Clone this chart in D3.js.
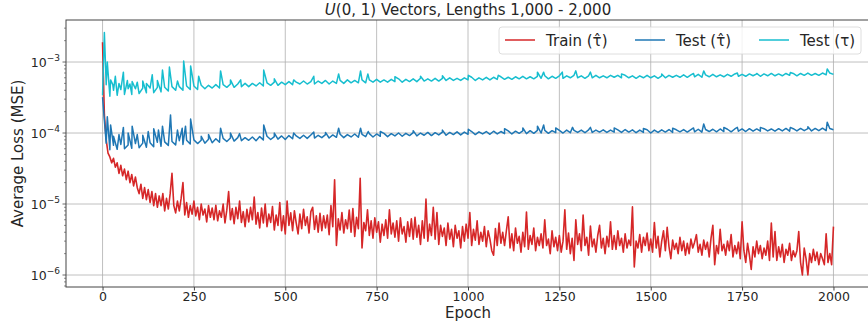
<!DOCTYPE html>
<html>
<head>
<meta charset="utf-8">
<script src="https://cdn.jsdelivr.net/npm/d3@7"></script>
<style>
  body { margin: 0; background: #fff; }
  svg { display: block; font-family: "DejaVu Sans", sans-serif; }
</style>
</head>
<body>
<div id="chart"></div>
<script>
// epochs run 0..2000; train logged every 5 epochs, test every 10 (+ spikes)
var trainStep = 5, testStep = 10;

// Train (tau hat), units of 1e-6
var trainLoss = [
  1900,180,80,52,46,38,44,33,38,27,35,25,31,22,29,20,26,18,24,17,
  14,19,12,17,11.5,16,10.5,15,9.5,14,9,13,9.5,14,8,12,8.5,14,27,9.5,
  7.5,11,8,12,20,7,10.5,6.5,9.5,7.2,11,6.8,9,6,10,7,8.5,5.6,9.5,6.5,
  8.8,6,9.6,5.8,8,6.5,10,5.4,8.2,15,6,8.6,5.3,9,6.2,11,5.5,7.8,4.8,8.4,
  5.6,9,6,12.5,5.2,7.6,4.6,8.8,5.4,10,4.8,7.2,5.5,9.2,4.3,7,5,10.5,4.2,6.8,
  3.8,11,5,7.5,4.2,8,5.4,3.8,7.2,4.5,8.4,5,6.6,3.9,7.8,9,4.4,6.8,4,7.4,
  4.2,6.8,4.6,7,3.7,9.5,4.8,22,2.6,6.2,4.3,7.6,3.9,6,4.5,8.2,4,8.6,3.5,6.5,
  4.5,23,2.4,5.5,4.2,8.3,3.6,5.8,3.3,6.4,4,5.6,2.9,5.2,3.6,6,3.3,8.3,3.8,5.4,
  3.4,5.8,3,6.4,3.8,4.8,2.9,5.6,3.5,6.2,3.2,6.5,3.4,5,2.7,5.8,3.3,11.7,3,5.2,
  3.6,9,3.2,7.6,2.7,5,3.5,4.6,2.6,5.4,3.2,4.4,2.5,5,3.3,4.2,2.4,4.8,3,5.2,
  3.3,7.6,2.6,4.4,3.1,5.8,2.7,4,3,4.8,2.5,4.2,3.2,2.2,1.9,4.5,2.6,5.4,2.8,4,
  2.6,4.2,6.6,2.4,3.8,2.2,4.6,2.8,3.5,2.1,4,2.5,7.7,2.3,3.6,2.7,4.6,2.2,3.4,2.6,
  3.8,2.4,6,2.6,3.2,2,4.2,2.5,3.4,2.2,3.6,2.1,3,8.3,2.3,3.9,2,3.3,1.6,6,
  2.7,3.8,2.2,7,2.6,3.4,1.9,4.9,2.5,3.2,2.1,3.6,5,2.4,3.3,2,3.5,2.5,5.6,2.3,
  3.6,2.3,4.2,2.6,3.3,2.1,3.8,2.4,3.1,2.6,9.1,1.3,3,2.4,3.7,2.1,3.4,2.6,3.9,2.2,
  3.2,2.1,5.5,2.4,3.5,1.8,3,4.2,2.2,4.7,2.5,1.7,3.1,2.3,2.8,2,3.4,2.2,3,1.9,
  2.8,2,3.2,2.4,2.9,3.7,2.1,2.7,1.9,3.1,2.3,2.9,1.8,3.3,5,1.4,2.6,2,4.4,2.2,
  2.7,1.9,3,2.2,3.7,1.8,2.6,2,2.9,1.7,5.6,2.2,1.5,2.8,1.9,1.2,2.5,1.8,3,2,
  2.6,1.7,2.4,1.9,3,1.6,5.4,1.8,4.1,1.6,2.5,1.8,2.7,1.5,2.3,1.9,2.8,1.6,2.2,1.8,
  2.2,4.1,1.5,1,2.4,1.7,1,2,1.5,2.3,1.6,2.1,1.4,2,1.7,1.4,3.8,1.5,2,1.4,
  4.8
];
var trainUnit = 1e-6;

// Test (tau hat), units of 1e-5
var testHatLoss = [
  32,7.2,5.8,6.7,5.9,6.9,6.0,6.8,6.1,7.1,6.2,7.2,6.3,7.3,6.4,7.4,6.5,7.5,6.7,7.6,
  6.8,7.8,6.9,7.9,7.0,8.0,7.1,7.9,7.2,8.2,7.3,8.3,7.4,8.4,7.6,8.5,7.7,8.6,7.8,8.6,
  7.9,8.8,7.8,8.9,8.0,9.0,8.1,8.9,8.2,9.1,8.1,9.2,8.3,9.1,8.4,9.3,8.4,9.4,8.5,9.3,
  8.6,9.5,8.5,9.4,8.7,9.6,8.6,9.5,8.8,9.7,8.7,9.6,8.9,9.8,8.8,9.7,9.0,9.9,8.9,9.8,
  9.1,10.0,9.0,9.9,9.2,10.1,9.1,10.0,9.3,10.2,9.2,10.1,9.4,10.3,9.3,10.2,9.5,10.4,9.4,10.3,
  9.6,10.5,9.5,10.4,9.7,10.5,9.6,10.6,9.7,10.5,9.8,10.7,9.7,10.6,9.9,10.7,9.8,10.8,9.9,10.9,
  10.0,10.9,9.9,10.8,10.1,10.9,10.0,11.0,10.1,10.9,10.2,11.0,10.1,11.1,10.2,11.0,10.3,11.1,10.2,11.0,
  10.3,11.1,10.2,11.2,10.3,11.1,10.1,11.0,10.2,11.1,10.0,11.0,10.2,11.1,10.3,11.2,10.2,11.1,10.4,11.2,
  10.3,11.2,10.4,11.3,10.3,11.2,10.5,11.3,10.4,11.4,10.5,11.3,10.4,11.4,10.6,11.4,10.5,11.5,10.6,11.4,
  10.6,11.5,10.7,11.4,10.6,11.5,10.7,11.6,10.6,11.5,10.7,11.6,10.8,11.5,10.7,11.6,10.8,11.7,10.8,11.6,
  11.1
];
var testHatUnit = 1e-5;
var testHatSpikeEpochs = [13,22,30,45,57,70,81,95,110,125,140,153,164,186,205,218,227,241,270,290,323,350,375,441,470,523,578,610,646,706,727,760,850,930,1001,1100,1150,1190,1207,1240,1286,1335,1400,1480,1560,1617,1645,1700,1737,1800,1882,1930,1983];
var testHatSpikeValues = [17,13,9,9.5,12,10,12.5,9.5,9.3,10.5,11.5,11,12.5,18,11,11.7,12.5,15.7,9,9.5,11.7,10,9.8,13,10,10,10.3,10.2,11.7,11.7,10.5,10.5,10.8,11,11.3,11.5,11.8,12.5,13,11.8,12,12,11.8,11.6,11.7,11.8,13.4,12,12,12,12,12.3,14.2];

// Test (tau), units of 1e-4
var testLoss = [
  3.4,4.8,3.3,4.0,3.4,4.1,3.5,4.2,3.5,4.2,3.6,4.3,3.7,4.3,3.7,4.4,3.8,4.4,3.9,4.5,
  4.0,4.5,4.0,4.6,4.1,4.6,4.1,4.7,4.2,4.7,4.3,4.8,4.3,4.8,4.4,4.9,4.4,4.9,4.5,5.0,
  4.5,5.0,4.6,5.1,4.6,5.1,4.7,5.2,4.7,5.2,4.8,5.3,4.8,5.2,4.9,5.4,4.9,5.3,4.9,5.4,
  5.0,5.5,4.9,5.4,5.0,5.5,5.0,5.6,5.1,5.5,5.1,5.6,5.1,5.6,5.2,5.7,5.2,5.6,5.2,5.7,
  5.3,5.8,5.2,5.7,5.3,5.8,5.3,5.9,5.4,5.8,5.4,5.9,5.4,5.9,5.5,6.0,5.5,5.9,5.5,6.0,
  5.6,6.1,5.5,6.0,5.6,6.1,5.6,6.1,5.7,6.2,5.7,6.1,5.7,6.2,5.8,6.3,5.8,6.2,5.8,6.3,
  5.9,6.4,5.8,6.3,5.9,6.4,5.9,6.4,6.0,6.5,6.0,6.4,5.9,6.4,6.0,6.5,6.0,6.4,6.0,6.5,
  6.1,6.5,6.0,6.5,6.0,6.4,5.9,6.4,6.0,6.5,6.0,6.4,5.9,6.4,6.0,6.5,6.1,6.5,6.1,6.6,
  6.1,6.6,6.2,6.7,6.1,6.6,6.2,6.7,6.2,6.6,6.2,6.7,6.3,6.8,6.3,6.7,6.3,6.8,6.4,6.8,
  6.3,6.8,6.4,6.9,6.4,6.8,6.4,6.9,6.5,6.9,6.4,6.9,6.5,7.0,6.5,6.9,6.5,7.0,6.6,7.0,
  6.7
];
var testUnit = 1e-4;
var testSpikeEpochs = [5,13,22,28,35,45,57,68,75,81,95,110,120,136,150,164,183,205,222,241,263,323,350,378,441,470,523,578,646,706,726,800,870,930,1001,1083,1190,1207,1258,1295,1335,1420,1530,1617,1645,1737,1790,1882,1983];
var testSpikeValues = [26,10,5.6,4.8,6.3,5.0,7.2,5.5,4.9,5.3,5.2,5.4,5.0,6.6,5.5,7.7,8.5,5.4,10.3,8.8,6.3,7.5,5.6,5.6,7.7,5.8,5.6,6.3,6.8,7.5,6.8,6.2,6.3,6.4,6.5,6.5,7.2,7.2,7.2,7.5,7.2,6.8,6.8,6.9,7.5,7,6.9,7.1,8];

var xTicks = [0,250,500,750,1000,1250,1500,1750,2000];
var yTickExps = [-6,-5,-4,-3];
var legendLabels = ["Train (\u03C4\u0302)", "Test (\u03C4\u0302)", "Test (\u03C4)"];
var colors = ["#d62728", "#1f77b4", "#17becf"];

function buildSeries(vals, step, unit, spikeE, spikeV) {
  var pts = vals.map(function(v, i) { return {e: i * step, v: v * unit}; });
  if (spikeE) {
    spikeE.forEach(function(e, i) { pts.push({e: e, v: spikeV[i] * unit}); });
  }
  pts.sort(function(a, b) { return a.e - b.e; });
  return pts;
}

(function() {
  var series = [
    buildSeries(trainLoss, trainStep, trainUnit),
    buildSeries(testHatLoss, testStep, testHatUnit, testHatSpikeEpochs, testHatSpikeValues),
    buildSeries(testLoss, testStep, testUnit, testSpikeEpochs, testSpikeValues)
  ];

  var width = 868, height = 327;
  var mLeft = 66, mRight = 870, mTop = 20, mBottom = 287;

  var svg = d3.select("#chart").append("svg")
    .attr("width", width).attr("height", height);

  var x = d3.scaleLinear().domain([-100, 2100]).range([mLeft, mRight]);
  var y = d3.scaleLog().domain([Math.pow(10, -6.169), Math.pow(10, -2.408)]).range([mBottom, mTop]);

  svg.append("clipPath").attr("id", "clip")
    .append("rect").attr("x", mLeft).attr("y", mTop)
    .attr("width", mRight - mLeft).attr("height", mBottom - mTop);

  // grid
  var grid = svg.append("g").attr("stroke", "#b0b0b0").attr("stroke-width", 0.8);
  xTicks.forEach(function(t) {
    grid.append("line").attr("x1", x(t)).attr("x2", x(t)).attr("y1", mTop).attr("y2", mBottom);
  });
  yTickExps.forEach(function(p) {
    var yy = y(Math.pow(10, p));
    grid.append("line").attr("x1", mLeft).attr("x2", mRight).attr("y1", yy).attr("y2", yy);
  });

  // lines
  var line = d3.line()
    .x(function(d) { return x(d.e); })
    .y(function(d) { return y(d.v); });

  var plot = svg.append("g").attr("clip-path", "url(#clip)");
  series.forEach(function(s, i) {
    plot.append("path")
      .datum(s)
      .attr("d", line)
      .attr("fill", "none")
      .attr("stroke", colors[i])
      .attr("stroke-width", i === 0 ? 1.6 : 1.5)
      .attr("stroke-linejoin", "round");
  });

  // x axis
  var xAxis = d3.axisBottom(x).tickValues(xTicks).tickSize(3.5).tickPadding(2).tickFormat(d3.format("d"));
  var gx = svg.append("g").attr("transform", "translate(0," + mBottom + ")").call(xAxis);
  gx.select(".domain").remove();
  gx.selectAll("text").attr("font-size", 12.5).attr("fill", "#262626").attr("font-family", "DejaVu Sans");
  gx.selectAll("line").attr("stroke", "#444");

  // y ticks (log)
  var gy = svg.append("g");
  var minor = [];
  for (var p = -7; p <= -3; p++) {
    for (var m = 2; m <= 9; m++) {
      var v = m * Math.pow(10, p);
      if (v > y.domain()[0] && v < y.domain()[1]) minor.push(v);
    }
  }
  gy.selectAll(".minor").data(minor).enter().append("line")
    .attr("x1", mLeft - 2).attr("x2", mLeft)
    .attr("y1", function(d) { return y(d); }).attr("y2", function(d) { return y(d); })
    .attr("stroke", "#444").attr("stroke-width", 0.6);
  yTickExps.forEach(function(p) {
    var yy = y(Math.pow(10, p));
    gy.append("line").attr("x1", mLeft - 3.5).attr("x2", mLeft)
      .attr("y1", yy).attr("y2", yy).attr("stroke", "#444").attr("stroke-width", 0.8);
    var t = gy.append("text").attr("x", mLeft - 6).attr("y", yy + 4.5)
      .attr("text-anchor", "end").attr("font-size", 12.5).attr("fill", "#262626");
    t.append("tspan").text("10");
    t.append("tspan").attr("dy", -6).attr("font-size", 9).text("\u2212" + Math.abs(p));
  });

  // frame
  svg.append("rect").attr("x", mLeft).attr("y", mTop)
    .attr("width", mRight - mLeft).attr("height", mBottom - mTop)
    .attr("fill", "none").attr("stroke", "#444").attr("stroke-width", 1);

  // labels
  var title = svg.append("text").attr("x", (mLeft + mRight) / 2).attr("y", 15)
    .attr("text-anchor", "middle").attr("font-size", 15).attr("fill", "#262626");
  title.append("tspan").attr("font-style", "italic").text("U");
  title.append("tspan").text("(0, 1) Vectors, Lengths 1,000 - 2,000");

  svg.append("text").attr("x", (mLeft + mRight) / 2).attr("y", 318)
    .attr("text-anchor", "middle").attr("font-size", 15).attr("fill", "#262626").text("Epoch");

  svg.append("text").attr("transform", "translate(23," + ((mTop + mBottom) / 2) + ") rotate(-90)")
    .attr("text-anchor", "middle").attr("font-size", 15).attr("fill", "#262626").text("Average Loss (MSE)");

  // legend
  var legend = svg.append("g");
  legend.append("rect").attr("x", 499).attr("y", 27).attr("width", 362).attr("height", 27)
    .attr("rx", 3).attr("fill", "#fff").attr("fill-opacity", 0.8)
    .attr("stroke", "#d6d6d6").attr("stroke-width", 0.8);
  var legendX = [505, 635, 759];
  legendLabels.forEach(function(lab, i) {
    legend.append("line").attr("x1", legendX[i]).attr("x2", legendX[i] + 30)
      .attr("y1", 40).attr("y2", 40).attr("stroke", colors[i]).attr("stroke-width", 1.5);
    legend.append("text").attr("x", legendX[i] + 41).attr("y", 45.5)
      .attr("font-size", 15).attr("fill", "#262626").text(lab);
  });
})();
</script>
</body>
</html>
